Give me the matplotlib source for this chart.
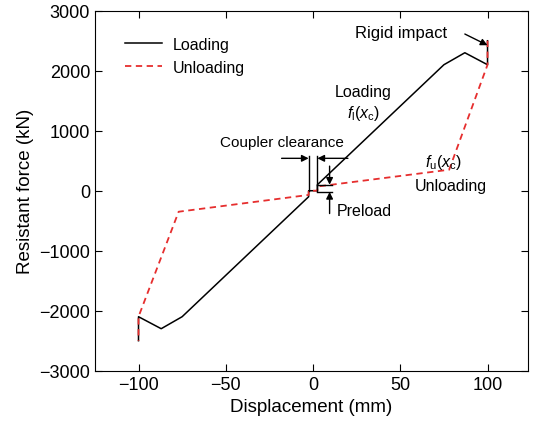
import matplotlib.pyplot as plt

plt.rcParams['font.family'] = ['Liberation Sans', 'DejaVu Sans']
plt.rcParams['mathtext.fontset'] = 'custom'
plt.rcParams['mathtext.rm'] = 'Liberation Sans'
plt.rcParams['mathtext.it'] = 'Liberation Sans:italic'

# loading / unloading curves (mm, kN)
load_x = [-100, -100, -87, -75, -2.5, -2.5, 2.5, 2.5, 75, 87, 100, 100]
load_y = [-2500, -2100, -2300, -2100, -100, 0, 0, 100, 2100, 2300, 2100, 2500]
unload_x = [100, 100, 78, 2.5, 2.5, -2.5, -2.5, -77, -100, -100]
unload_y = [2500, 2100, 350, 70, 0, 0, -70, -350, -2100, -2500]

clearance = 2.5
preload = 100

xticks = [-100, -50, 0, 50, 100]
yticks = [-3000, -2000, -1000, 0, 1000, 2000, 3000]

red = '#e62e2e'
fs = 11.5

fig = plt.figure(figsize=(5.33, 4.27), dpi=100)
ax = fig.add_axes([0.178, 0.1295, 0.812, 0.843])

ax.plot(load_x, load_y, color='k', lw=1.1, label='Loading')
ax.plot(unload_x, unload_y, color=red, lw=1.3, dashes=(3.5, 2.5), label='Unloading')

# coupler clearance marks
ax.plot([-clearance, -clearance], [0, 580], color='k', lw=1)
ax.plot([clearance, clearance], [0, 580], color='k', lw=1)
arr = dict(arrowstyle='-|>', color='k', lw=1, mutation_scale=10, shrinkA=0, shrinkB=0)
ax.annotate('', xy=(-clearance, 540), xytext=(-18, 540), arrowprops=arr)
ax.annotate('', xy=(clearance, 540), xytext=(20, 540), arrowprops=arr)
ax.text(-18, 812, 'Coupler clearance', fontsize=11, ha='center', va='center')

# preload marks
ax.plot([clearance, 11], [preload, preload], color='k', lw=1)
ax.plot([clearance, 11], [-20, -20], color='k', lw=1)
ax.annotate('', xy=(9.5, preload), xytext=(9.5, 410), arrowprops=arr)
ax.annotate('', xy=(9.5, -20), xytext=(9.5, -380), arrowprops=arr)
ax.text(13.5, -322, 'Preload', fontsize=fs, ha='left', va='center')

# rigid impact
ax.annotate('', xy=(100, 2425), xytext=(87, 2612), arrowprops=arr)
ax.text(24, 2645, 'Rigid impact', fontsize=12, ha='left', va='center')

ax.text(29, 1662, 'Loading', fontsize=fs, ha='center', va='center')
ax.text(29, 1312, r'$f_{\mathrm{l}}(x_{\mathrm{c}})$', fontsize=fs, ha='center', va='center')
ax.text(75, 495, r'$f_{\mathrm{u}}(x_{\mathrm{c}})$', fontsize=fs, ha='center', va='center')
ax.text(78.7, 95, 'Unloading', fontsize=fs, ha='center', va='center')

ax.set_xlim(-125, 123)
ax.set_ylim(-3000, 3000)
ax.set_xticks(xticks)
ax.set_yticks(yticks)
ax.tick_params(direction='in', top=True, right=True, labelsize=13, length=5)
ax.set_xlabel('Displacement (mm)', fontsize=13.5)
ax.set_ylabel('Resistant force (kN)', fontsize=13.5)
ax.legend(loc='upper left', bbox_to_anchor=(0.056, 0.945), borderaxespad=0,
          frameon=False, fontsize=fs, handlelength=2.3, handletextpad=0.65)

fig.savefig('out.png', dpi=100)
